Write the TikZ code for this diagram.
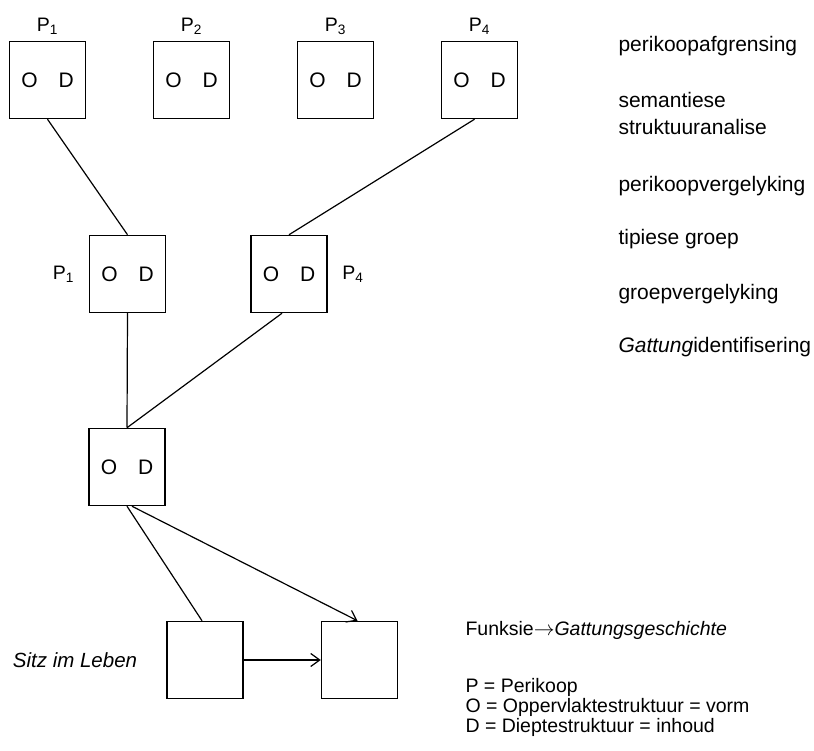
\documentclass[tikz,border=0pt]{standalone}
\usepackage{fontspec}
\setmainfont{Liberation Sans}
\usetikzlibrary{arrows.meta}

\begin{document}
\begin{tikzpicture}[x=1pt,y=1pt,>={Straight Barb[length=9pt,width=13pt]},
    node distance=144pt,
    odbox/.style={draw,line width=1.5pt,minimum width=76pt,minimum height=77pt,inner sep=0pt,font=\fontsize{21}{24}\selectfont},
    lbl/.style={font=\fontsize{19.5}{23}\selectfont},
    note/.style={anchor=base west,font=\fontsize{21}{27}\selectfont},
    legend/.style={anchor=base west,font=\fontsize{19.5}{20}\selectfont}]
    \useasboundingbox (0,0) rectangle (814,750);

    \node[odbox] (p1) at (47.5,670) {O\quad D};
    \node[odbox] (p2) [right of=p1] {O\quad D};
    \node[odbox] (p3) [right of=p2] {O\quad D};
    \node[odbox] (p4) [right of=p3] {O\quad D};
    \foreach \i in {1,...,4}
      \node[lbl] (lp\i) [above of=p\i,node distance=54pt] {P\textsubscript{\i}};

    \node[odbox] (m1) at (127.5,476) {O\quad D};
    \node[odbox] (m4) at (289,476)   {O\quad D};
    \node[lbl] (lm1) [left of=m1,node distance=64pt]  {P\textsubscript{1}};
    \node[lbl] (lm4) [right of=m4,node distance=64pt] {P\textsubscript{4}};

    \node[odbox] (od) at (127,283) {O\quad D};

    \node[odbox] (sitz)  at (205,90)   {};
    \node[odbox] (gesch) at (359.5,90) {};
    \node[font=\fontsize{20.5}{24}\selectfont\itshape] (lsitz) at (75,90) {Sitz im Leben};

    \path[draw,line width=1.2pt] (p1.south) -- (m1.north)
              ([xshift=-5pt]p4.south) -- (m4.north)
              (m1.south) -- (od.north)
              ([xshift=-7pt]m4.south) -- (od.north)
              (od.south) -- ([xshift=-3pt]sitz.north);
    \draw[->,line width=1.2pt] ([xshift=5pt]od.south) -- ([xshift=-2pt]gesch.north);
    \draw[->,line width=1.2pt] (sitz.east) -- (gesch.west);

    \node[note] (n1) at (615,698) {perikoopafgrensing};
    \node[note] (n2) at (615,642) {semantiese};
    \node[note] (n2b) at (615,615) {struktuuranalise};
    \node[note] (n3) at (615,558) {perikoopvergelyking};
    \node[note] (n4) at (615,505) {tipiese groep};
    \node[note] (n5) at (615,450) {groepvergelyking};
    \node[note] (n6) at (615,397) {\textit{Gattung}identifisering};

    \node[legend] (f) at (462,114) {Funksie$\rightarrow$\textit{Gattungsgeschichte}};
    \node[legend] (l1) at (462,58) {P = Perikoop};
    \node[legend] (l2) at (462,38) {O = Oppervlaktestruktuur = vorm};
    \node[legend] (l3) at (462,18) {D = Dieptestruktuur = inhoud};
\end{tikzpicture}
\end{document}
